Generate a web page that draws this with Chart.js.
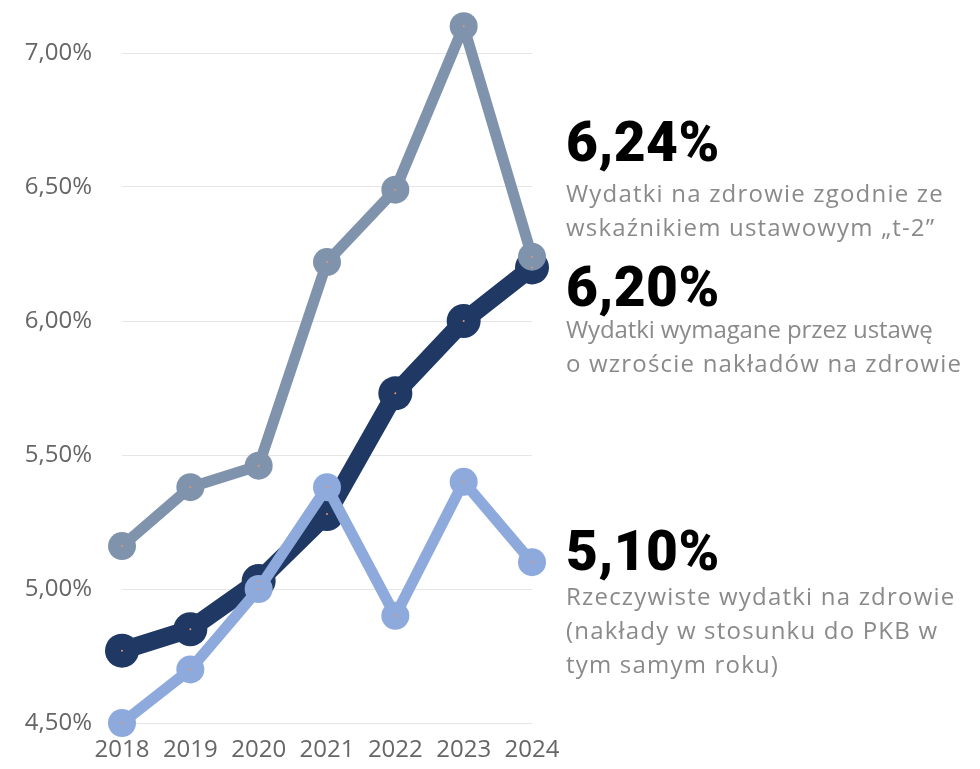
<!DOCTYPE html>
<html lang="pl">
<head>
<meta charset="utf-8">
<title>Wydatki na zdrowie</title>
<script src="https://cdn.jsdelivr.net/npm/chart.js@4/dist/chart.umd.min.js"></script>
<style>
  html, body { margin: 0; padding: 0; background: #fff; }
  #wrap { position: relative; width: 980px; height: 769px; overflow: hidden; }
  #chart { position: absolute; left: 0; top: 0; }
  .note { position: absolute; left: 566px; font-family: "Open Sans", Roboto, sans-serif; }
  .note .big { font-family: Roboto, sans-serif; font-size: 55px; font-weight: 900; color: #000; line-height: 56px; letter-spacing: 0.5px; }
  .note .desc { font-size: 24px; color: #8a8a8a; line-height: 34px; letter-spacing: 1.2px; white-space: nowrap; }
  .note .tight { letter-spacing: -0.1px; }
</style>
</head>
<body>
<div id="wrap">
  <canvas id="chart" width="980" height="769"></canvas>
  <div class="note" style="top:114px">
    <div class="big">6,24%</div>
    <div class="desc" style="margin-top:6px">Wydatki na zdrowie zgodnie ze<br>wskaźnikiem ustawowym „t-2”</div>
  </div>
  <div class="note" style="top:259px">
    <div class="big">6,20%</div>
    <div class="desc" style="margin-top:-3px"><span class="tight">Wydatki wymagane przez ustawę</span><br>o wzroście nakładów na zdrowie</div>
  </div>
  <div class="note" style="top:523px">
    <div class="big">5,10%</div>
    <div class="desc" style="margin-top:0">Rzeczywiste wydatki na zdrowie<br>(nakłady w stosunku do PKB w<br>tym samym roku)</div>
  </div>
</div>
<script>
// Years and series (% of GDP)
const years = ['2018', '2019', '2020', '2021', '2022', '2023', '2024'];
const indicatorT2 = [5.16, 5.38, 5.46, 6.22, 6.49, 7.10, 6.24];
const requiredByLaw = [4.77, 4.85, 5.03, 5.28, 5.73, 6.00, 6.20];
const actualSpending = [4.50, 4.70, 5.00, 5.38, 4.90, 5.40, 5.10];
const yTicks = [4.5, 5.0, 5.5, 6.0, 6.5, 7.0];

const fmtPct = v => v.toFixed(2).replace('.', ',') + '%';
const tickFont = { family: '"Open Sans"', size: 24 };

// points above 7% sit outside the chart area and would be skipped,
// so widen the area while the datasets are drawn (clip is off anyway)
const roomAbove = {
    id: 'roomAbove',
    beforeDatasetsDraw(chart) {
        chart._savedTop = chart.chartArea.top;
        chart.chartArea.top -= 60;
    },
    afterDatasetsDraw(chart) {
        chart.chartArea.top = chart._savedTop;
    }
};

// tiny orange dot in the middle of every marker
const centerDots = {
    id: 'centerDots',
    afterDatasetsDraw(chart) {
        const ctx = chart.ctx;
        ctx.save();
        ctx.fillStyle = '#e8956a';
        chart.data.datasets.forEach((ds, i) => {
            chart.getDatasetMeta(i).data.forEach(pt => {
                ctx.beginPath();
                ctx.arc(pt.x, pt.y, 1, 0, Math.PI * 2);
                ctx.fill();
            });
        });
        ctx.restore();
    }
};

new Chart(document.getElementById('chart'), {
    type: 'line',
    data: {
        labels: years,
        datasets: [
            {
                label: 'Wskaźnik ustawowy t-2',
                data: indicatorT2,
                borderColor: '#8093ad',
                backgroundColor: '#8093ad',
                borderWidth: 11,
                pointRadius: 14,
                pointBorderWidth: 0,
                order: 1,
                clip: false
            },
            {
                label: 'Rzeczywiste wydatki',
                data: actualSpending,
                borderColor: '#8eaadc',
                backgroundColor: '#8eaadc',
                borderWidth: 11,
                pointRadius: 14,
                pointBorderWidth: 0,
                order: 2,
                clip: false
            },
            {
                label: 'Wymagane przez ustawę',
                data: requiredByLaw,
                borderColor: '#1f3864',
                backgroundColor: '#1f3864',
                borderWidth: 18,
                pointRadius: 17,
                pointBorderWidth: 0,
                order: 3,
                clip: false
            }
        ]
    },
    options: {
        responsive: false,
        animation: false,
        layout: { padding: { top: 53, right: 448, left: 2, bottom: 0 } },
        plugins: { legend: { display: false }, tooltip: { enabled: false } },
        elements: { line: { tension: 0, borderJoinStyle: 'round', borderCapStyle: 'round' } },
        scales: {
            x: {
                offset: false,
                grid: { display: false, drawTicks: false },
                border: { display: false },
                ticks: { color: '#666', font: tickFont, padding: 13, maxRotation: 0 },
                afterFit(axis) { axis.height = 46; }
            },
            y: {
                min: 4.5,
                max: 7.0,
                afterBuildTicks(axis) { axis.ticks = yTicks.map(v => ({ value: v })); },
                grid: { color: '#e6e6e6', lineWidth: 1, drawTicks: false },
                border: { display: false },
                ticks: { color: '#666', font: tickFont, padding: 30, callback: v => fmtPct(v) },
                afterFit(axis) { axis.width = 120; }
            }
        }
    },
    plugins: [roomAbove, centerDots]
});
</script>
</body>
</html>
